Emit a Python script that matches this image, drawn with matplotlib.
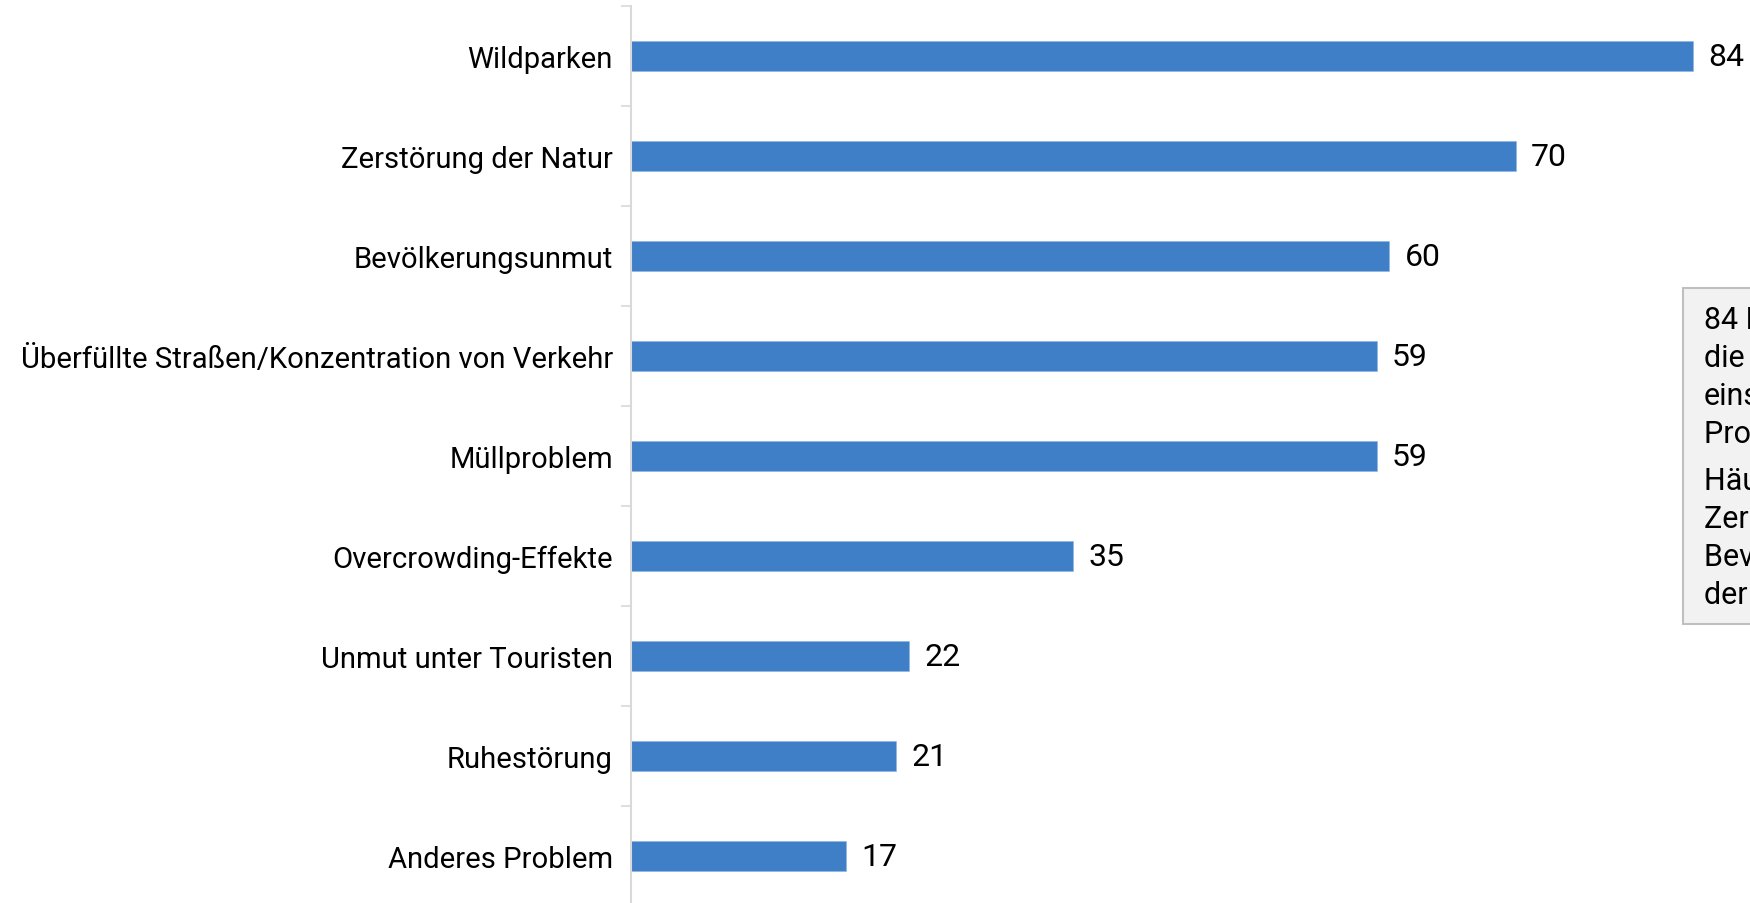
import matplotlib
matplotlib.use("Agg")
import matplotlib.pyplot as plt
from matplotlib.patches import Rectangle

plt.rcParams['font.family'] = ['Roboto', 'DejaVu Sans']

categories = [
    "Wildparken",
    "Zerstörung der Natur",
    "Bevölkerungsunmut",
    "Überfüllte Straßen/Konzentration von Verkehr",
    "Müllproblem",
    "Overcrowding-Effekte",
    "Unmut unter Touristen",
    "Ruhestörung",
    "Anderes Problem",
]
values = [84, 70, 60, 59, 59, 35, 22, 21, 17]

box_lines_1 = [
    "84 Prozent der Befragten sehen",
    "die Wildparken als",
    "einschneidendstes",
    "Problem an.",
]
box_lines_2 = [
    "Häufig genannt werden auch",
    "Zerstörung der Natur,",
    "Bevölkerungsunmut und",
    "der Verkehr.",
]

W, H = 1750, 904
fig = plt.figure(figsize=(W / 100, H / 100), dpi=100)

ax_left = 631
px_per_unit = 12.64
top_px, bottom_px = 7, 907
ax = fig.add_axes([ax_left / W, 1 - bottom_px / H, (W - ax_left) / W, (bottom_px - top_px) / H])

bar_color = "#3F7FC8"
ypos = list(range(len(categories)))
ax.barh(ypos, values, height=0.3, color=bar_color, edgecolor="#8FB4E0", linewidth=0.4)

ax.set_xlim(0, (W - ax_left) / px_per_unit)
ax.set_ylim(len(categories) - 0.5, -0.5)

for y, v in zip(ypos, values):
    ax.annotate(str(v), xy=(v, y), xytext=(11, 0), textcoords="offset points",
                va="center", ha="left", fontsize=23, color="black")

ax.set_yticks(ypos)
ax.set_yticklabels(categories, fontsize=21.1, color="black")
ax.tick_params(axis="y", which="major", length=0, pad=13)
ax.set_yticks([k - 0.5 for k in range(len(categories) + 1)], minor=True)
ax.tick_params(axis="y", which="minor", length=7.5, width=1.2, color="#D9D9D9", direction="out")
ax.set_xticks([])

for s in ["top", "right", "bottom"]:
    ax.spines[s].set_visible(False)
ax.spines["left"].set_color("#D9D9D9")
ax.spines["left"].set_linewidth(1.5)

# annotation box (cut off at right edge, as in the reference)
box_l, box_t, box_b = 1683, 289, 625
fig.patches.append(Rectangle((box_l / W, 1 - box_b / H), (W + 50 - box_l) / W, (box_b - box_t) / H,
                             transform=fig.transFigure, facecolor="#F2F2F2",
                             edgecolor="#BFBFBF", linewidth=1.5, zorder=5))
baselines_1 = [329, 367, 405, 443]
baselines_2 = [490, 528, 566, 604]
for lines, bls in ((box_lines_1, baselines_1), (box_lines_2, baselines_2)):
    for t, b in zip(lines, bls):
        fig.text(1704 / W, 1 - b / H, t, fontsize=22, va="baseline", ha="left",
                 color="black", zorder=6)

fig.savefig("out.png", dpi=100)
